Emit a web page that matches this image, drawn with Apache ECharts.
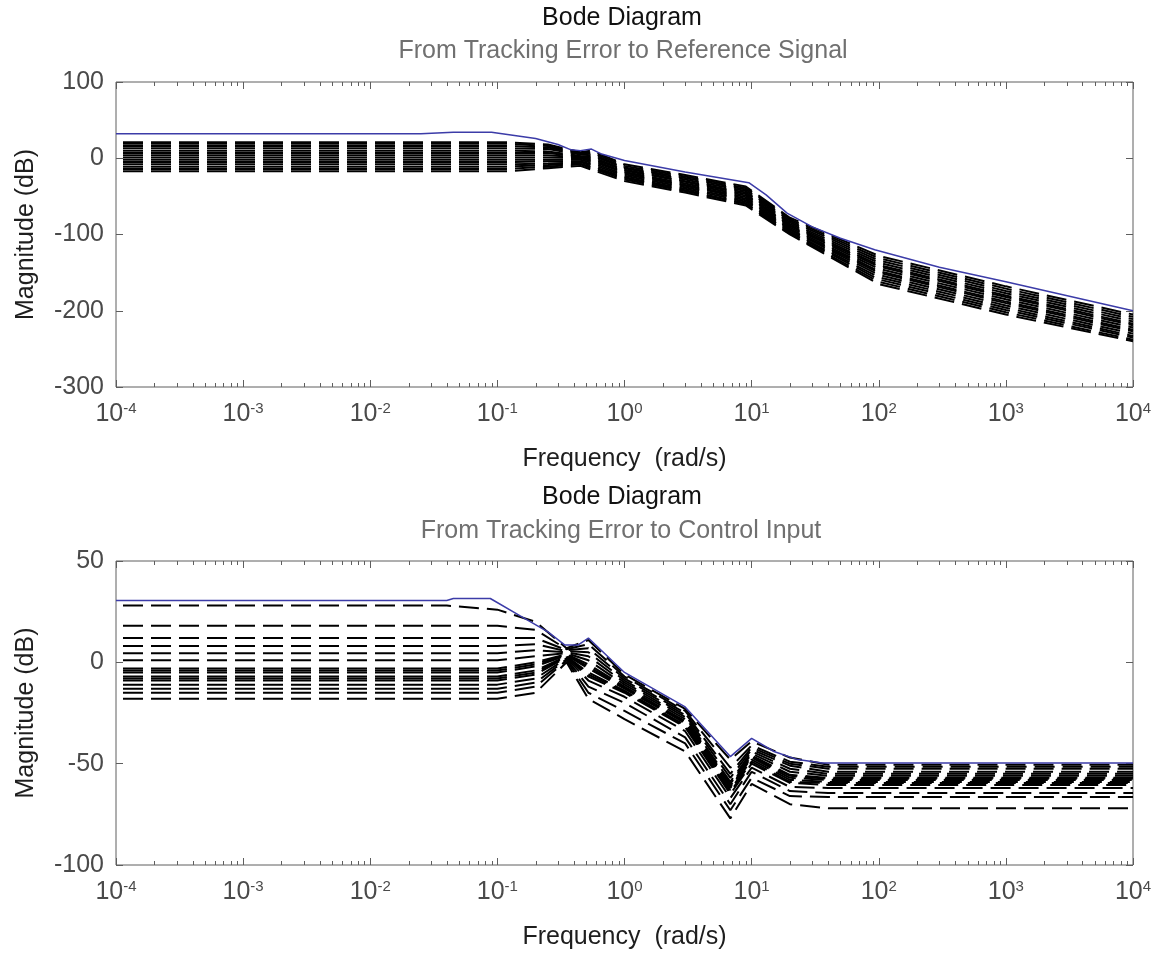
<!DOCTYPE html>
<html>
<head>
<meta charset="utf-8">
<title>Bode Diagram</title>
<script src="https://cdn.jsdelivr.net/npm/echarts@6/dist/echarts.min.js"></script>
<style>
  html, body { margin: 0; padding: 0; background: #fff; }
  #main { width: 1162px; height: 960px; }
</style>
</head>
<body>
<div id="main"></div>
<script>
// ---- values (frequency in rad/s, magnitude in dB) ----

// upper plot: tracking error -> reference signal
var refSolidFreq = [1e-4, 0.025, 0.045, 0.09, 0.2, 0.3, 0.38, 0.45, 0.55, 0.65, 1, 3, 9.5, 13, 19, 30, 50, 93, 300, 1000, 1e4];
var refSolid     = [32, 32, 34, 34, 26, 18, 11, 10, 12, 6, -3, -18, -32, -48, -72, -90, -105, -120, -143, -162, -200];

var refDashFreq = [1e-4, 0.05, 0.12, 0.25, 0.45, 0.55, 1, 3, 9, 20, 100, 1000, 1e4];
var refDashed = [
  [21, 21, 21, 18, 8, 10, -8, -22, -37, -78, -128, -168, -205],
  [19, 19, 19, 16, 7, 8, -10, -24, -39, -80, -131, -171, -208],
  [16, 16, 16, 14, 6, 6, -12, -26, -41, -82, -134, -174, -211],
  [13, 13, 13, 12, 5, 4, -13, -28, -43, -84, -137, -177, -214],
  [10, 10, 10, 9, 3, 2, -15, -30, -45, -86, -140, -180, -217],
  [7, 7, 7, 7, 2, 0, -16, -31, -47, -88, -142, -182, -219],
  [4, 4, 4, 4, 1, -2, -18, -33, -49, -89, -145, -185, -222],
  [1, 1, 1, 1, 0, -4, -19, -35, -51, -91, -148, -188, -225],
  [-2, -2, -2, -2, -2, -6, -21, -36, -53, -93, -150, -190, -227],
  [-5, -5, -5, -4, -4, -8, -23, -38, -55, -94, -153, -193, -230],
  [-8, -8, -8, -7, -5, -10, -25, -40, -57, -96, -156, -196, -233],
  [-11, -11, -11, -9, -7, -12, -26, -42, -59, -97, -159, -199, -235],
  [-14, -14, -14, -11, -8, -13, -28, -43, -60, -99, -162, -202, -238],
  [-17, -17, -17, -13, -10, -15, -30, -45, -62, -100, -165, -205, -240]
];

// lower plot: tracking error -> control input
var ctrlSolidFreq = [1e-4, 0.04, 0.045, 0.088, 0.15, 0.25, 0.34, 0.43, 0.52, 1, 3, 6.8, 10, 15, 23, 36, 1e4];
var ctrlSolid     = [30.5, 30.5, 31.5, 31.5, 23, 15, 8.5, 8.5, 12, -5, -22, -46.5, -37.5, -44, -48, -49.7, -49.7];

var ctrlDashFreq = [1e-4, 0.04, 0.1, 0.2, 0.35, 0.52, 1, 3, 6.8, 10, 20, 40, 1e4];
var ctrlDashed = [
  [28, 28, 26, 20, 7, 11, -6, -23, -48, -39, -47, -50.5, -50.5],
  [18, 18, 18, 16, 6.5, 9, -7, -24, -52, -41, -49, -51.5, -51.5],
  [12, 12, 12, 12, 6, 7, -8, -25, -55, -42, -50, -52.5, -52.5],
  [8, 8, 8, 9, 5.5, 5, -9, -26, -57, -43, -51, -54, -54],
  [4.5, 4.5, 4.5, 6, 5, 3, -10, -27, -59, -44, -52.5, -55, -55],
  [1, 1, 1, 3, 4.5, 1, -11, -28, -60, -45, -54, -56, -56],
  [-3, -3, -3, 0, 4, -1, -12, -29, -61, -46, -55.5, -57, -57],
  [-4, -4, -4, -1, 3.8, -2, -12.5, -29.5, -61.5, -46.5, -56, -57.5, -57.5],
  [-5, -5, -5, -2, 3.5, -3, -13, -30, -62, -47, -57, -58, -58],
  [-7, -7, -7, -4, 3, -5, -14, -31, -63, -48, -58, -59, -59],
  [-8, -8, -8, -5, 2.8, -6, -14.5, -31.5, -64, -49, -59, -59.5, -59.5],
  [-9, -9, -9, -6, 2.5, -7, -15, -32, -65, -50, -59.5, -60.5, -60.5],
  [-11, -11, -11, -8, 2, -9, -17, -34, -67, -52, -61.5, -62, -62],
  [-13, -13, -13, -10, 1.5, -12, -20, -37, -70, -54, -63.5, -64.5, -64.5],
  [-15, -15, -15, -12, 1, -15, -24, -40, -73, -57, -66, -66.5, -66.5],
  [-18, -18, -18, -15, 0, -18, -28, -44, -77, -60, -70, -72, -72]
];

// minor log ticks inside each decade
var minorSteps = [2, 3, 4, 5, 6, 7, 8, 9];
var decades = [1e-4, 1e-3, 1e-2, 1e-1, 1, 10, 100, 1000];

var FONT = '"Liberation Sans", Arial, sans-serif';
var FS = 25;
var BOX = '#5e5e5e';
var LABEL = '#4a4a4a';

var chart = echarts.init(document.getElementById('main'), null, { renderer: 'canvas' });

function pairs(freq, vals) {
  return freq.map(function (f, i) { return [f, vals[i]]; });
}

function powLabel(v) {
  var e = Math.round(Math.log(v) / Math.LN10);
  return '{b|10}{e|' + e + '}';
}

var minorFreq = [];
decades.forEach(function (d) {
  minorSteps.forEach(function (m) { minorFreq.push(d * m); });
});

function minorTicks(idx, yMin, yMax) {
  return {
    type: 'custom',
    xAxisIndex: idx * 2,
    yAxisIndex: idx * 2,
    silent: true,
    z: 5,
    data: minorFreq.map(function (f) { return [f, yMin]; }),
    renderItem: function (params, api) {
      var f = api.value(0);
      var b = api.coord([f, yMin]);
      var t = api.coord([f, yMax]);
      var x = Math.round(b[0]) + 0.5;
      var st = { stroke: BOX, lineWidth: 1 };
      return {
        type: 'group',
        children: [
          { type: 'line', shape: { x1: x, y1: b[1], x2: x, y2: b[1] - 4 }, style: st },
          { type: 'line', shape: { x1: x, y1: t[1], x2: x, y2: t[1] + 4 }, style: st }
        ]
      };
    }
  };
}

function xAxes(idx) {
  var common = {
    type: 'log', logBase: 10, gridIndex: idx, min: 1e-4, max: 1e4,
    axisLine: { show: false, onZero: false },
    axisTick: { inside: true, length: 7, lineStyle: { color: BOX } },
    splitLine: { show: false }
  };
  var bottom = Object.assign({}, common, {
    position: 'bottom',
    axisLabel: {
      formatter: powLabel, margin: 14,
      rich: {
        b: { fontSize: FS, fontFamily: FONT, color: LABEL, lineHeight: 26, verticalAlign: 'bottom' },
        e: { fontSize: 15, fontFamily: FONT, color: LABEL, lineHeight: 26, verticalAlign: 'top' }
      }
    },
    name: 'Frequency  (rad/s)', nameLocation: 'middle', nameGap: 60,
    nameTextStyle: { fontSize: FS, fontFamily: FONT, color: '#1e1e1e' }
  });
  var top = Object.assign({}, common, { position: 'top', axisLabel: { show: false } });
  return [bottom, top];
}

function yAxes(idx, min, max, step) {
  var common = {
    type: 'value', gridIndex: idx, min: min, max: max, interval: step,
    axisLine: { show: false, onZero: false },
    axisTick: { inside: true, length: 7, lineStyle: { color: BOX } },
    splitLine: { show: false }
  };
  var left = Object.assign({}, common, {
    position: 'left',
    axisLabel: { fontSize: FS, fontFamily: FONT, color: LABEL, margin: 12 },
    name: 'Magnitude (dB)', nameLocation: 'middle', nameGap: 77, nameRotate: 90,
    nameTextStyle: { fontSize: FS, fontFamily: FONT, color: '#1e1e1e' }
  });
  var right = Object.assign({}, common, { position: 'right', axisLabel: { show: false } });
  return [left, right];
}

function curveSeries(idx, freq, vals, dashed) {
  return {
    type: 'line',
    xAxisIndex: idx * 2,
    yAxisIndex: idx * 2,
    data: pairs(freq, vals),
    symbol: 'none',
    silent: true,
    z: dashed ? 2 : 3,
    lineStyle: dashed
      ? { color: '#000', width: 2, type: [20, 8], dashOffset: 21 }
      : { color: '#3c3ca8', width: 1.5 }
  };
}

var series = [];
refDashed.forEach(function (v) { series.push(curveSeries(0, refDashFreq, v, true)); });
series.push(curveSeries(0, refSolidFreq, refSolid, false));
ctrlDashed.forEach(function (v) { series.push(curveSeries(1, ctrlDashFreq, v, true)); });
series.push(curveSeries(1, ctrlSolidFreq, ctrlSolid, false));
series.push(minorTicks(0, -300, 100));
series.push(minorTicks(1, -100, 50));

function heading(x, y, text, color) {
  return {
    type: 'text', x: x, y: y,
    style: { text: text, fill: color, fontSize: FS, fontFamily: FONT, align: 'center', verticalAlign: 'middle' }
  };
}

var option = {
  animation: false,
  backgroundColor: '#fff',
  grid: [
    { left: 116, right: 29, top: 82, height: 305, show: true, borderColor: BOX, borderWidth: 1, backgroundColor: 'transparent' },
    { left: 116, right: 29, top: 561, height: 304, show: true, borderColor: BOX, borderWidth: 1, backgroundColor: 'transparent' }
  ],
  xAxis: xAxes(0).concat(xAxes(1)),
  yAxis: yAxes(0, -300, 100, 100).concat(yAxes(1, -100, 50, 50)),
  graphic: [
    heading(622, 18, 'Bode Diagram', '#111'),
    heading(623, 51, 'From Tracking Error to Reference Signal', '#707070'),
    heading(622, 497, 'Bode Diagram', '#111'),
    heading(621, 531, 'From Tracking Error to Control Input', '#707070')
  ],
  series: series
};

chart.setOption(option);
</script>
</body>
</html>
